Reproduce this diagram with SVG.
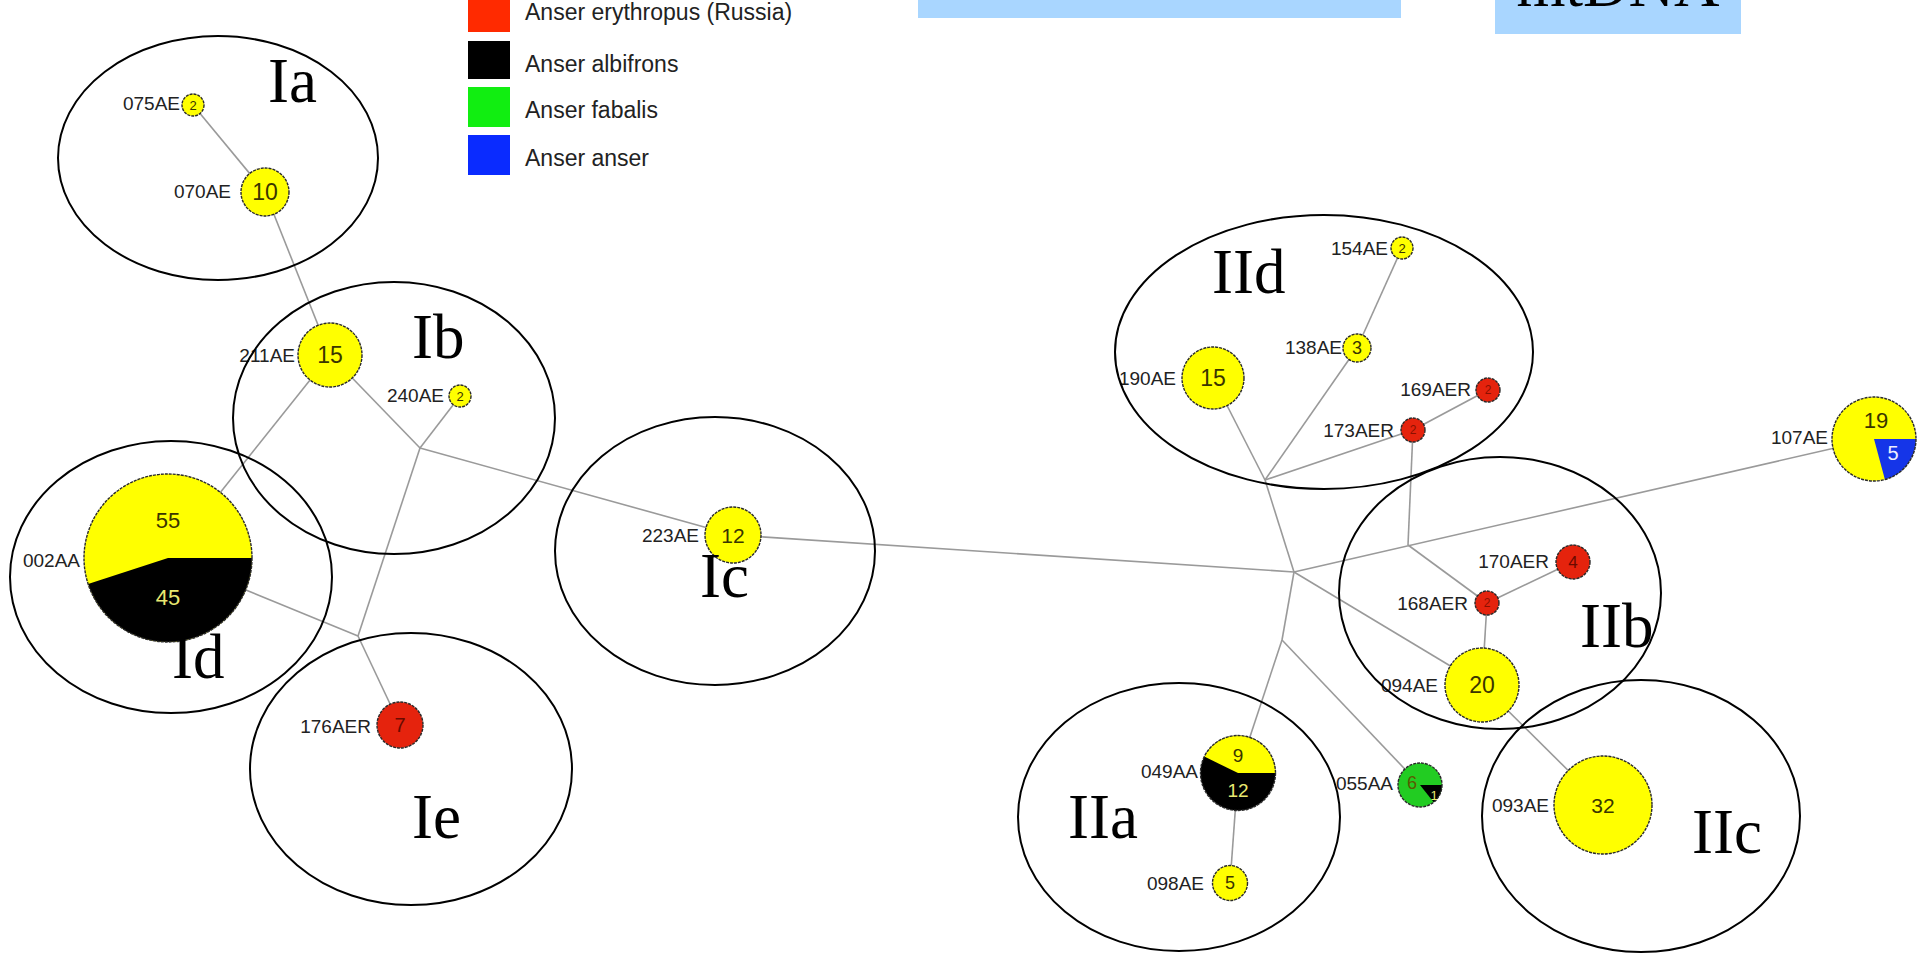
<svg xmlns="http://www.w3.org/2000/svg" width="1919" height="954" viewBox="0 0 1919 954">
<style>
.bg{fill:#ffffff}
.edge{stroke:#9a9a9a;stroke-width:1.6;fill:none}
.grp{fill:none;stroke:#000;stroke-width:2}
.glab{font-family:"Liberation Serif","Times New Roman",serif;font-size:63px;fill:#000}
.lbl{font-family:"Liberation Sans",Arial,sans-serif;font-size:19px;fill:#222;text-anchor:end}
.num{font-family:"Liberation Sans",Arial,sans-serif;text-anchor:middle;fill:#3a3500}
.ol{fill:none;stroke:#2a2a2a;stroke-width:1.4;stroke-dasharray:3 1}
.y{fill:#ffff00}
.r{fill:#e5230d}
.k{fill:#000000}
.g{fill:#22cc22}
.b{fill:#1535e8}
.leg{font-family:"Liberation Sans",Arial,sans-serif;font-size:23px;fill:#222}
</style>
<rect class="bg" x="0" y="0" width="1919" height="954"/>
<g id="titles">
<rect x="918" y="-20" width="483" height="38" fill="#a9d6ff"/>
<rect x="1495" y="-40" width="246" height="74" fill="#a9d6ff"/>
<text x="1618" y="6" font-family="Liberation Serif,Times New Roman,serif" font-size="63" text-anchor="middle" fill="#000">mtDNA</text>
</g>
<g id="legend">
<rect x="468" y="-6" width="42" height="38" fill="#ff2a00"/>
<rect x="468" y="41" width="42" height="38" fill="#000"/>
<rect x="468" y="87" width="42" height="40" fill="#11ee11"/>
<rect x="468" y="135" width="42" height="40" fill="#0a2bff"/>
<text class="leg" x="525" y="20">Anser erythropus (Russia)</text>
<text class="leg" x="525" y="72">Anser albifrons</text>
<text class="leg" x="525" y="118">Anser fabalis</text>
<text class="leg" x="525" y="166">Anser anser</text>
</g>
<g id="connectors">
<line class="edge" x1="193" y1="105" x2="265" y2="192"/>
<line class="edge" x1="265" y1="192" x2="330" y2="355"/>
<line class="edge" x1="330" y1="355" x2="420" y2="448"/>
<line class="edge" x1="460" y1="396" x2="420" y2="448"/>
<line class="edge" x1="420" y1="448" x2="733" y2="535"/>
<line class="edge" x1="330" y1="355" x2="168" y2="558"/>
<line class="edge" x1="420" y1="448" x2="358" y2="636"/>
<line class="edge" x1="168" y1="558" x2="358" y2="636"/>
<line class="edge" x1="358" y1="636" x2="400" y2="725"/>
<line class="edge" x1="733" y1="535" x2="1294" y2="572"/>
<line class="edge" x1="1294" y1="572" x2="1874" y2="439"/>
<line class="edge" x1="1294" y1="572" x2="1265" y2="480"/>
<line class="edge" x1="1265" y1="480" x2="1213" y2="378"/>
<line class="edge" x1="1265" y1="480" x2="1357" y2="348"/>
<line class="edge" x1="1357" y1="348" x2="1402" y2="248"/>
<line class="edge" x1="1265" y1="480" x2="1413" y2="430"/>
<line class="edge" x1="1413" y1="430" x2="1488" y2="390"/>
<line class="edge" x1="1413" y1="430" x2="1408" y2="545"/>
<line class="edge" x1="1408" y1="545" x2="1487" y2="603"/>
<line class="edge" x1="1487" y1="603" x2="1573" y2="562"/>
<line class="edge" x1="1487" y1="603" x2="1482" y2="685"/>
<line class="edge" x1="1294" y1="572" x2="1482" y2="685"/>
<line class="edge" x1="1482" y1="685" x2="1603" y2="805"/>
<line class="edge" x1="1294" y1="572" x2="1282" y2="640"/>
<line class="edge" x1="1282" y1="640" x2="1238" y2="773"/>
<line class="edge" x1="1282" y1="640" x2="1420" y2="785"/>
<line class="edge" x1="1238" y1="773" x2="1230" y2="883"/>
</g>
<g id="n075AE"><circle class="y" cx="193" cy="105" r="11"/><circle class="ol" cx="193" cy="105" r="11"/><text class="num" x="193" y="110" font-size="13">2</text><text class="lbl" x="180" y="110">075AE</text></g>
<g id="n070AE"><circle class="y" cx="265" cy="192" r="24"/><circle class="ol" cx="265" cy="192" r="24"/><text class="num" x="265" y="200" font-size="23">10</text><text class="lbl" x="231" y="198">070AE</text></g>
<g id="n211AE"><circle class="y" cx="330" cy="355" r="32"/><circle class="ol" cx="330" cy="355" r="32"/><text class="num" x="330" y="363" font-size="23">15</text><text class="lbl" x="295" y="362">211AE</text></g>
<g id="n240AE"><circle class="y" cx="460" cy="396" r="11"/><circle class="ol" cx="460" cy="396" r="11"/><text class="num" x="460" y="401" font-size="13">2</text><text class="lbl" x="444" y="402">240AE</text></g>
<g id="n002AA"><circle class="y" cx="168" cy="558" r="84"/><path class="k" d="M168,558 L252,558 A84,84 0 0 1 88.1,584 Z"/><circle class="ol" cx="168" cy="558" r="84"/><text class="num" x="168" y="528" font-size="22">55</text><text class="num" x="168" y="605" font-size="22" style="fill:#e8e870">45</text><text class="lbl" x="80" y="567">002AA</text></g>
<g id="n176AER"><circle class="r" cx="400" cy="725" r="23"/><circle class="ol" cx="400" cy="725" r="23"/><text class="num" x="400" y="732" font-size="20" style="fill:#6a0a00">7</text><text class="lbl" x="371" y="733">176AER</text></g>
<g id="n223AE"><circle class="y" cx="733" cy="535" r="28"/><circle class="ol" cx="733" cy="535" r="28"/><text class="num" x="733" y="543" font-size="21">12</text><text class="lbl" x="699" y="542">223AE</text></g>
<g id="n190AE"><circle class="y" cx="1213" cy="378" r="31"/><circle class="ol" cx="1213" cy="378" r="31"/><text class="num" x="1213" y="386" font-size="23">15</text><text class="lbl" x="1176" y="385">190AE</text></g>
<g id="n138AE"><circle class="y" cx="1357" cy="348" r="14"/><circle class="ol" cx="1357" cy="348" r="14"/><text class="num" x="1357" y="354" font-size="18">3</text><text class="lbl" x="1342" y="354">138AE</text></g>
<g id="n154AE"><circle class="y" cx="1402" cy="248" r="11"/><circle class="ol" cx="1402" cy="248" r="11"/><text class="num" x="1402" y="253" font-size="13">2</text><text class="lbl" x="1388" y="255">154AE</text></g>
<g id="n169AER"><circle class="r" cx="1488" cy="390" r="12"/><circle class="ol" cx="1488" cy="390" r="12"/><text class="num" x="1488" y="394" font-size="12" style="fill:#8a1000">2</text><text class="lbl" x="1471" y="396">169AER</text></g>
<g id="n173AER"><circle class="r" cx="1413" cy="430" r="12"/><circle class="ol" cx="1413" cy="430" r="12"/><text class="num" x="1413" y="434" font-size="12" style="fill:#8a1000">2</text><text class="lbl" x="1394" y="437">173AER</text></g>
<g id="n168AER"><circle class="r" cx="1487" cy="603" r="12"/><circle class="ol" cx="1487" cy="603" r="12"/><text class="num" x="1487" y="607" font-size="12" style="fill:#8a1000">2</text><text class="lbl" x="1468" y="610">168AER</text></g>
<g id="n170AER"><circle class="r" cx="1573" cy="562" r="17"/><circle class="ol" cx="1573" cy="562" r="17"/><text class="num" x="1573" y="568" font-size="17" style="fill:#6a0a00">4</text><text class="lbl" x="1549" y="568">170AER</text></g>
<g id="n094AE"><circle class="y" cx="1482" cy="685" r="37"/><circle class="ol" cx="1482" cy="685" r="37"/><text class="num" x="1482" y="693" font-size="23">20</text><text class="lbl" x="1438" y="692">094AE</text></g>
<g id="n093AE"><circle class="y" cx="1603" cy="805" r="49"/><circle class="ol" cx="1603" cy="805" r="49"/><text class="num" x="1603" y="813" font-size="21">32</text><text class="lbl" x="1549" y="812">093AE</text></g>
<g id="n049AA"><circle class="k" cx="1238" cy="773" r="37.5"/><path class="y" d="M1238,773 L1204.3,756.6 A37.5,37.5 0 0 1 1275.5,773 Z"/><circle class="ol" cx="1238" cy="773" r="37.5"/><text class="num" x="1238" y="762" font-size="19">9</text><text class="num" x="1238" y="797" font-size="19" style="fill:#e8e870">12</text><text class="lbl" x="1198" y="778">049AA</text></g>
<g id="n098AE"><circle class="y" cx="1230" cy="883" r="17.5"/><circle class="ol" cx="1230" cy="883" r="17.5"/><text class="num" x="1230" y="889" font-size="18">5</text><text class="lbl" x="1204" y="890">098AE</text></g>
<g id="n055AA"><circle class="g" cx="1420" cy="785" r="22"/><path class="k" d="M1420,785 L1442,785 A22,22 0 0 1 1433.7,802.2 Z"/><circle class="ol" cx="1420" cy="785" r="22"/><text class="num" x="1412" y="789" font-size="18" style="fill:#5a5a00">6</text><text class="num" x="1434" y="800" font-size="13" style="fill:#e8e870">1</text><text class="lbl" x="1393" y="790">055AA</text></g>
<g id="n107AE"><circle class="y" cx="1874" cy="439" r="42"/><path class="b" d="M1874,439 L1916,439 A42,42 0 0 1 1884.9,479.6 Z"/><circle class="ol" cx="1874" cy="439" r="42"/><text class="num" x="1876" y="428" font-size="22">19</text><text class="num" x="1893" y="460" font-size="20" style="fill:#eef">5</text><text class="lbl" x="1828" y="444">107AE</text></g>
<g id="groups">
<ellipse class="grp" cx="218" cy="158" rx="160" ry="122"/>
<ellipse class="grp" cx="394" cy="418" rx="161" ry="136"/>
<ellipse class="grp" cx="171" cy="577" rx="161" ry="136"/>
<ellipse class="grp" cx="411" cy="769" rx="161" ry="136"/>
<ellipse class="grp" cx="715" cy="551" rx="160" ry="134"/>
<ellipse class="grp" cx="1324" cy="352" rx="209" ry="137"/>
<ellipse class="grp" cx="1500" cy="593" rx="161" ry="136"/>
<ellipse class="grp" cx="1179" cy="817" rx="161" ry="134"/>
<ellipse class="grp" cx="1641" cy="816" rx="159" ry="136"/>
<text class="glab" x="268" y="102">Ia</text>
<text class="glab" x="412" y="358">Ib</text>
<text class="glab" x="700" y="597">Ic</text>
<text class="glab" x="172" y="678">Id</text>
<text class="glab" x="412" y="838">Ie</text>
<text class="glab" x="1068" y="838">IIa</text>
<text class="glab" x="1580" y="647">IIb</text>
<text class="glab" x="1692" y="853">IIc</text>
<text class="glab" x="1212" y="293">IId</text>
</g>
</svg>
